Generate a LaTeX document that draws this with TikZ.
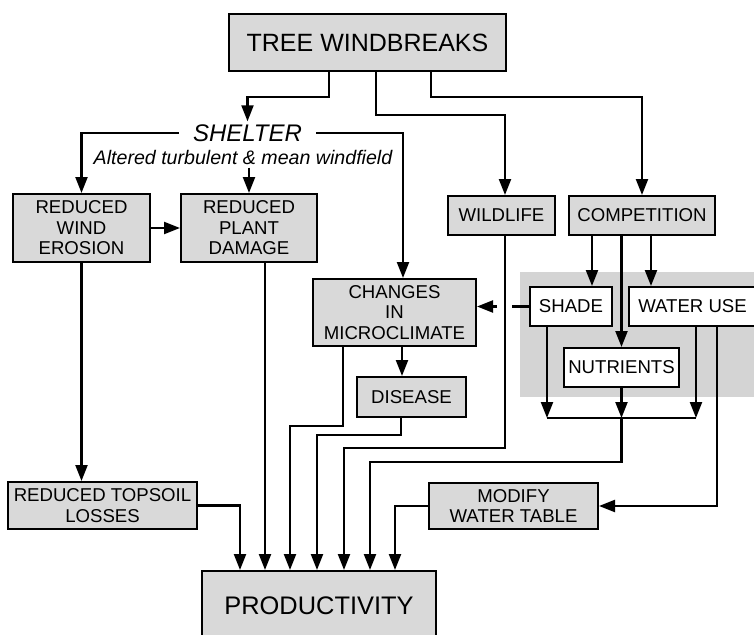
\documentclass[tikz,border=0pt]{standalone}
\usepackage{fontspec}
\setmainfont{Liberation Sans}
\usetikzlibrary{arrows.meta,calc}
\definecolor{boxgray}{gray}{0.85}
\definecolor{zonegray}{gray}{0.83}

\begin{document}
\begin{tikzpicture}[x=1pt,y=-1pt,
  box/.style={draw,line width=2pt,fill=boxgray,inner sep=0pt,align=center,
    font=\fontsize{18.6}{20.5}\selectfont},
  wbox/.style={box,fill=white},
  link/.style={line width=2.2pt},
  arr/.style={link,-{Triangle[length=16pt,width=12pt]}}]
  \useasboundingbox (0,0) rectangle (754,634);
  \fill[zonegray] (520,272) rectangle (760,397);
  \node[box,minimum width=277pt,minimum height=57pt,font=\fontsize{25}{28}\selectfont] (tw) at (367.5,42.5) {TREE WINDBREAKS};
  \node[font=\fontsize{24}{28}\selectfont\itshape,inner xsep=14pt,inner ysep=3pt] (shelter) at (247.5,133) {SHELTER};
  \node[font=\fontsize{19.6}{22}\selectfont\itshape] (windfield) at (243,157) {Altered turbulent \& mean windfield};
  \node[box,minimum width=137pt,minimum height=68pt] (rwe) at (81.5,228) {REDUCED\\WIND\\EROSION};
  \node[box,minimum width=136pt,minimum height=68pt] (rpd) at (249,228) {REDUCED\\PLANT\\DAMAGE};
  \node[box,minimum width=107pt,minimum height=39pt] (wildlife) at (501.5,215.5) {WILDLIFE};
  \node[box,minimum width=146pt,minimum height=39pt] (comp) at (642,215.5) {COMPETITION};
  \node[box,minimum width=163pt,minimum height=67pt] (changes) at (394.5,312.5) {CHANGES\\IN\\MICROCLIMATE};
  \node[wbox,minimum width=82pt,minimum height=39pt] (shade) at (571,306.5) {SHADE};
  \node[wbox,minimum width=127pt,minimum height=39pt] (water) at (692.5,306.5) {WATER USE};
  \node[wbox,minimum width=115pt,minimum height=39pt] (nutrients) at (621.5,367.5) {NUTRIENTS};
  \node[box,minimum width=109pt,minimum height=40pt] (disease) at (411.5,397) {DISEASE};
  \node[box,minimum width=189pt,minimum height=47pt] (rtl) at (102.5,505.5) {REDUCED TOPSOIL\\LOSSES};
  \node[box,minimum width=169pt,minimum height=46pt] (modify) at (513.5,506) {MODIFY\\WATER TABLE};
  \node[box,minimum width=234pt,minimum height=70pt,font=\fontsize{25.4}{28}\selectfont] (prod) at (319,606) {PRODUCTIVITY};
  \coordinate (merge) at (621.5,418);
  % from the windbreaks
  \draw[arr] (tw.south -| 329,0) |- (247.5,97) -- (shelter.north);
  \draw[arr] (tw.south -| 376,0) |- (505,115) -- (wildlife.north -| 505,0);
  \draw[arr] (tw.south -| 431,0) |- (642,97) -- (comp.north);
  % shelter
  \draw[arr] (shelter.west) -| (rwe.north);
  \draw[arr] (shelter.east) -| (changes.north -| 403,0);
  \draw[arr] (windfield.south -| rpd.north) -- (rpd.north);
  \draw[arr] (rwe) -- (rpd);
  \draw[arr] (rwe.south) -- (rwe.south |- rtl.north);
  \draw[arr] (changes.south -| 402,0) -- (disease.north -| 402,0);
  % competition
  \draw[arr] (comp.south -| 592,0) -- (shade.north -| 592,0);
  \draw[arr] (comp.south -| nutrients.north) -- (nutrients.north);
  \draw[arr] (comp.south -| 651,0) -- (water.north -| 651,0);
  \draw[link] (shade.west) -- ++(-17,0);
  \draw[arr] ([xshift=-32pt]shade.west) -- (changes.east |- shade.west);
  \draw[arr] (shade.south -| 547,0) -- (547,418);
  \draw[arr] (nutrients.south) -- (merge);
  \draw[arr] (water.south -| 696,0) -- (696,418);
  \draw[link] (547,418) -- (696,418);
  \draw[arr] (water.south -| 717,0) |- (modify.east);
  % into productivity
  \draw[arr] (rtl.east) -| (prod.north -| 240,0);
  \draw[arr] (rpd.south -| 265,0) -- (prod.north -| 265,0);
  \draw[arr] (changes.south -| 343,0) |- (290,426) -- (prod.north -| 290,0);
  \draw[arr] (disease.south -| 401,0) |- (317,435) -- (prod.north -| 317,0);
  \draw[arr] (wildlife.south -| 505,0) |- (344,448) -- (prod.north -| 344,0);
  \draw[arr] (merge) |- (370,462) -- (prod.north -| 370,0);
  \draw[arr] (modify.west) -| (prod.north -| 395,0);
\end{tikzpicture}
\end{document}
